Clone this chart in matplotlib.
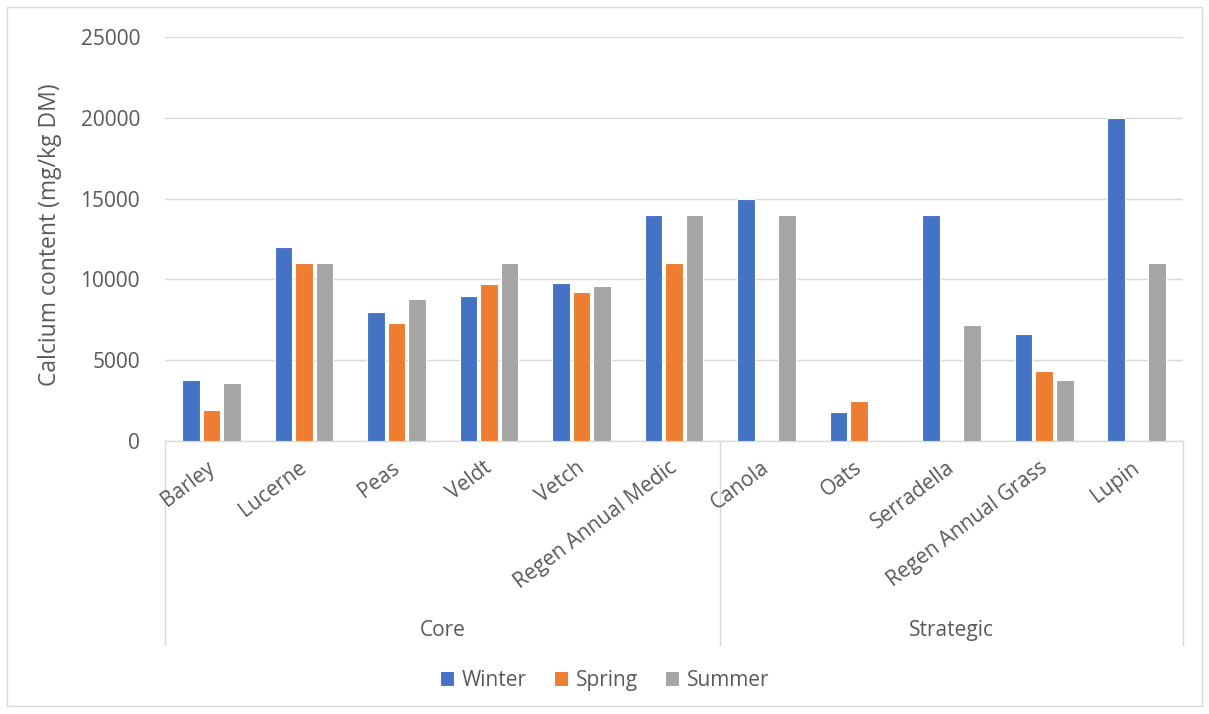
import numpy as np
import matplotlib
matplotlib.use("Agg")
import matplotlib.pyplot as plt
import matplotlib.transforms as mtransforms

plt.rcParams['font.family'] = ['Open Sans', 'DejaVu Sans']

crops = ['Barley', 'Lucerne', 'Peas', 'Veldt', 'Vetch', 'Regen Annual Medic',
         'Canola', 'Oats', 'Serradella', 'Regen Annual Grass', 'Lupin']
groups = ['Core', 'Strategic']
group_sizes = [6, 5]

winter = [3800, 12000, 8000, 9000, 9800, 14000, 15000, 1800, 14000, 6600, 20000]
spring = [1900, 11000, 7300, 9700, 9200, 11000, 0, 2500, 0, 4300, 0]
summer = [3600, 11000, 8800, 11000, 9600, 14000, 14000, 0, 7200, 3800, 11000]

series = [('Winter', winter, '#4472C4'),
          ('Spring', spring, '#ED7D31'),
          ('Summer', summer, '#A5A5A5')]

text_col = '#595959'
line_col = '#D9D9D9'

fig = plt.figure(figsize=(12.09, 7.14), dpi=100)
ax = fig.add_axes([0.1365, 0.3824, 0.842, 0.5658])

x = np.arange(len(crops))
width = 0.19
step = 0.222
for i, (name, vals, col) in enumerate(series):
    ax.bar(x + (i - 1) * step, vals, width, color=col, label=name,
           edgecolor='white', linewidth=0.8, zorder=3)

ax.set_xlim(-0.5, len(crops) - 0.5)
ax.set_ylim(0, 25000)
ax.set_yticks(np.arange(0, 25001, 5000))
ax.yaxis.grid(True, color=line_col, linewidth=1, zorder=0)
ax.tick_params(axis='y', length=0, pad=18, labelsize=15, labelcolor=text_col)
ax.set_xticks([])
for side in ['top', 'right', 'left']:
    ax.spines[side].set_visible(False)
ax.spines['bottom'].set_color(line_col)
ax.spines['bottom'].set_linewidth(1)

# two-level category axis: crop names, then group names with dividers
trans = mtransforms.blended_transform_factory(ax.transData, ax.transAxes)
for xi, name in zip(x, crops):
    ax.text(xi - 0.06, -0.04, name, transform=trans, rotation=37,
            rotation_mode='anchor', ha='right', va='top',
            fontsize=15, color=text_col)

edges = np.concatenate([[0], np.cumsum(group_sizes)]) - 0.5
for e in edges:
    ax.plot([e, e], [0, -0.505], transform=trans, color=line_col,
            linewidth=1, clip_on=False)
for g, lo, hi in zip(groups, edges[:-1], edges[1:]):
    ax.text((lo + hi) / 2, -0.468, g, transform=trans, ha='center',
            va='center', fontsize=15, color=text_col)

fig.text(0.041, 0.671, 'Calcium content (mg/kg DM)', rotation=90,
         ha='center', va='center', fontsize=16.5, color=text_col)

leg = fig.legend(loc='center', bbox_to_anchor=(0.5, 0.0476), ncol=3,
                 frameon=False, fontsize=15, handlelength=0.7,
                 handleheight=0.7, handletextpad=0.35, columnspacing=1.3)
for t in leg.get_texts():
    t.set_color(text_col)

# light border round the chart area
fig.patches.append(plt.Rectangle((0.006, 0.011), 0.988, 0.979,
                                 transform=fig.transFigure, fill=False,
                                 edgecolor=line_col, linewidth=1))

fig.savefig('out.png', dpi=100, facecolor='white')
